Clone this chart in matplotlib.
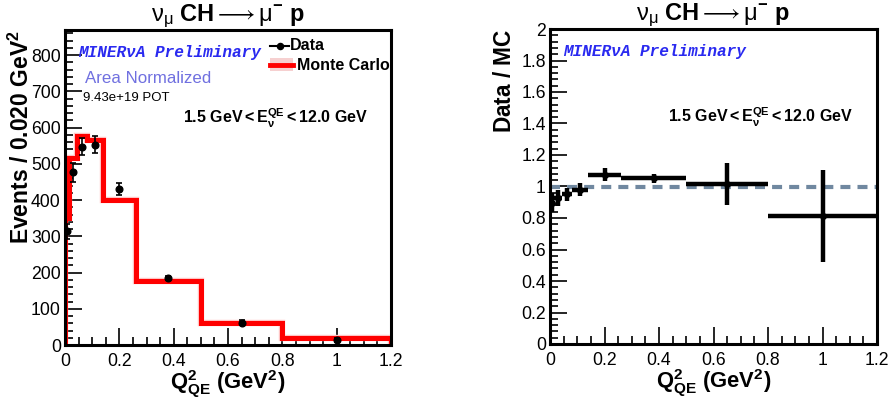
#!/usr/bin/env python3
"""MINERvA-style Q2_QE distribution with data/MC ratio panel."""
import matplotlib
matplotlib.use("Agg")
import matplotlib.pyplot as plt
import numpy as np
from matplotlib.lines import Line2D
from matplotlib.patches import Rectangle
from matplotlib.ticker import MultipleLocator, FormatStrFormatter

plt.rcParams["font.family"] = ["Liberation Sans", "DejaVu Sans"]
plt.rcParams["mathtext.fontset"] = "custom"
plt.rcParams["mathtext.rm"] = "Liberation Sans"
plt.rcParams["mathtext.bf"] = "Liberation Sans:bold"
plt.rcParams["mathtext.it"] = "Liberation Sans:italic"
plt.rcParams["mathtext.sf"] = "Liberation Sans"

# bins in Q2_QE (GeV^2)
bin_edges = [0.0, 0.015, 0.045, 0.08, 0.14, 0.26, 0.5, 0.8, 1.2]
mc_events = [350, 515, 576, 565, 400, 176, 61, 18.5]
data_events = [314, 477, 547, 553, 430, 185, 62, 15]
data_err = [21, 26, 24, 23, 17, 5.5, 8.2, 5.4]

edges = np.array(bin_edges)
centers = 0.5 * (edges[:-1] + edges[1:])
half_w = 0.5 * np.diff(edges)
mc = np.array(mc_events)
data = np.array(data_events)
err = np.array(data_err)
ratio = data / mc
ratio_err = err / mc

W, H = 891, 404
fig = plt.figure(figsize=(W / 100, H / 100), dpi=100)
ax1 = fig.add_axes([65 / W, 1 - 345 / H, 326 / W, 315 / H])
ax2 = fig.add_axes([550 / W, 1 - 344 / H, 327 / W, 315 / H])


def fx(px):
    return px / W


def fy(py):
    return 1 - py / H


title = r"$\mathrm{\nu_{\mu}}$ $\mathbf{CH} \longrightarrow \mathrm{\mu}^{\mathbf{-}}$ $\mathbf{p}$"
xlab = r"$\mathbf{Q^{2}_{QE}}$ $\mathbf{(GeV^{2})}$"
erange = r"$\mathbf{1.5\ GeV < E_{\nu}^{QE} < 12.0\ GeV}$"

for ax in (ax1, ax2):
    ax.set_xlim(0, 1.2)
    ax.xaxis.set_major_locator(MultipleLocator(0.2))
    ax.xaxis.set_minor_locator(MultipleLocator(0.05))
    ax.xaxis.set_major_formatter(FormatStrFormatter("%g"))
    ax.tick_params(which="both", direction="in", top=False, right=False,
                   labelsize=12.7, width=1.2)
    ax.tick_params(which="major", length=12)
    ax.tick_params(which="minor", length=6)
    ax.tick_params(axis="x", pad=6)
    ax.tick_params(axis="y", pad=3)
    for s in ax.spines.values():
        s.set_linewidth(2.2)
        s.set_zorder(5)
    ax.set_title(title, fontsize=17, pad=2)
    ax.set_xlabel(xlab, fontsize=15.8, labelpad=-1)
    ax.text(0.04, 0.93, "MINER\u03bdA Preliminary", transform=ax.transAxes,
            family="Liberation Mono", fontweight="bold", fontstyle="italic",
            color="#2a2af0", fontsize=11.6, va="center")

# left: event distribution
ax1.set_ylim(0, 869)
ax1.yaxis.set_major_locator(MultipleLocator(100))
ax1.yaxis.set_minor_locator(MultipleLocator(20))
ax1.stairs(mc, edges, baseline=0, color="#ffc4c4", linewidth=4.6, zorder=2)
ax1.stairs(mc, edges, baseline=0, color="#ff0000", linewidth=3.6, zorder=3)
ax1.errorbar(centers, data, yerr=err, fmt="o", color="black", ms=4.8,
             elinewidth=1.2, capsize=2.2, capthick=1.2, zorder=4)
ax1.text(-0.135, 1.0, r"$\mathbf{Events\ /\ 0.020\ GeV^{2}}$", transform=ax1.transAxes,
         rotation=90, ha="center", va="top", fontsize=16.5)
ax1.text(0.062, 0.845, "Area Normalized", transform=ax1.transAxes,
         color="#7070e0", fontsize=12.2, va="center")
ax1.text(0.055, 0.785, "9.43e+19 POT", transform=ax1.transAxes,
         color="black", fontsize=9.5, va="center")
ax1.text(0.363, 0.72, erange, transform=ax1.transAxes, fontsize=11.5, va="center")

# legend drawn by hand, ROOT style
fig.add_artist(Line2D([fx(270), fx(289)], [fy(46), fy(46)], color="black", lw=1.5))
fig.add_artist(Line2D([fx(279.5)], [fy(46)], color="black", marker="o", ms=4.4, lw=0))
fig.text(fx(290), fy(46), "Data", fontweight="bold", fontsize=11.5, va="center")
fig.add_artist(Rectangle((fx(270), fy(71)), fx(23), 13 / H, facecolor="#f6d0d0",
                         edgecolor="none", hatch="....", transform=fig.transFigure))
fig.add_artist(Line2D([fx(270), fx(293)], [fy(64.5), fy(64.5)], color="#ff0000", lw=3.5))
fig.text(fx(297), fy(65), "Monte Carlo", fontweight="bold", fontsize=11.5, va="center")

# right: data / MC ratio
ax2.set_ylim(0, 2)
ax2.yaxis.set_major_locator(MultipleLocator(0.2))
ax2.yaxis.set_minor_locator(MultipleLocator(0.04))
ax2.yaxis.set_major_formatter(FormatStrFormatter("%g"))
ax2.axhline(1.0, color="#7088a0", lw=3, linestyle=(0, (2.4, 1.7)), zorder=2)
ax2.errorbar(centers, ratio, xerr=half_w, yerr=ratio_err, fmt="o", color="black",
             ms=4, elinewidth=3.2, capsize=0, zorder=4)
ax2.text(-0.14, 1.0, r"$\mathbf{Data\ /\ MC}$", transform=ax2.transAxes,
         rotation=90, ha="center", va="top", fontsize=16.3)
ax2.text(0.36, 0.72, erange, transform=ax2.transAxes, fontsize=11.5, va="center")

fig.savefig("out.png", dpi=100)
